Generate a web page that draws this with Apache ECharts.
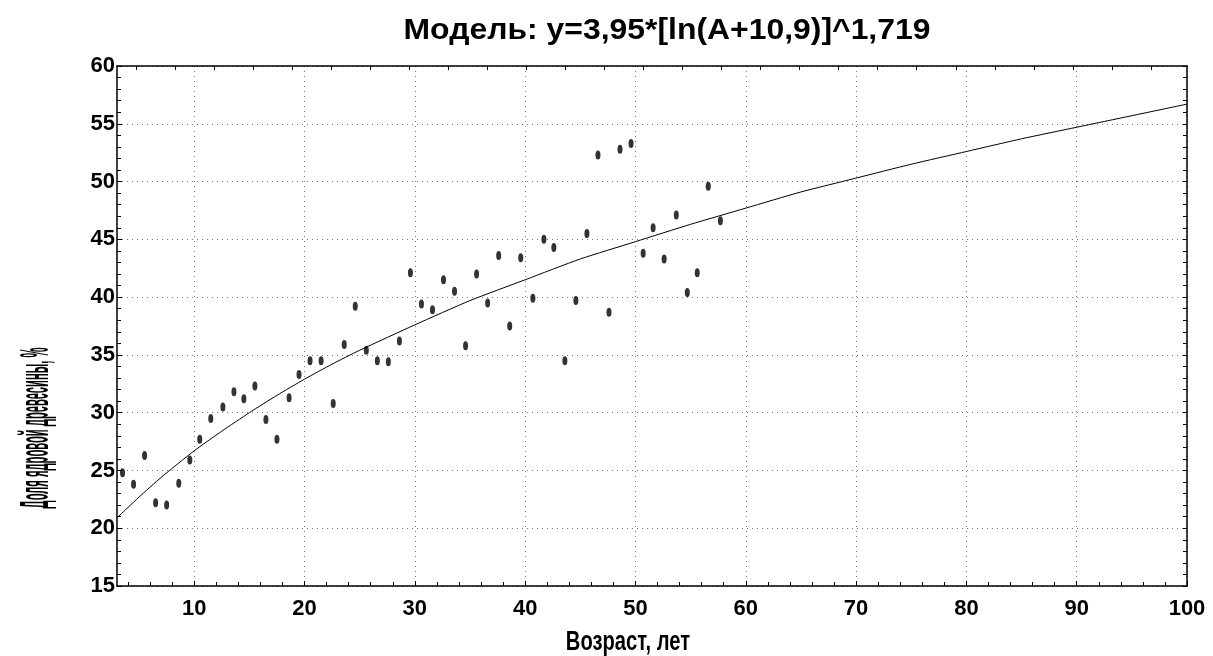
<!DOCTYPE html>
<html>
<head>
<meta charset="utf-8">
<script src="https://cdn.jsdelivr.net/npm/echarts@6/dist/echarts.min.js"></script>
<style>html,body{margin:0;padding:0;background:#fff}#c{width:1213px;height:656px}</style>
</head>
<body>
<div id="c"></div>
<script>
// Observed points: age (years) and heartwood share (%)
const ages = [3.5,4.5,5.5,6.5,7.5,8.6,9.6,10.5,11.5,12.6,13.6,14.5,15.5,16.5,17.5,18.6,19.5,20.5,21.5,22.6,23.6,24.6,25.6,26.6,27.6,28.6,29.6,30.6,31.6,32.6,33.6,34.6,35.6,36.6,37.6,38.6,39.6,40.7,41.7,42.6,43.6,44.6,45.6,46.6,47.6,48.6,49.6,50.7,51.6,52.6,53.7,54.7,55.6,56.6,57.7];
const shares = [24.8,23.8,26.3,22.2,22.0,23.9,25.9,27.7,29.5,30.5,31.8,31.2,32.3,29.4,27.7,31.3,33.3,34.5,34.5,30.8,35.9,39.2,35.4,34.5,34.4,36.2,42.1,39.4,38.9,41.5,40.5,35.8,42.0,39.5,43.6,37.5,43.4,39.9,45.0,44.3,34.5,39.7,45.5,52.3,38.7,52.8,53.3,43.8,46.0,43.3,47.1,40.4,42.1,49.6,46.6];
// Fitted model curve
const curveAges = [3,4,5,7,10,12.5,15,17.5,20,22.5,25,30,35,40,45,50,55,60,65,70,75,80,85,90,95,100];
const curveVals = [20.9,21.8,22.7,24.4,26.7,28.4,30.0,31.5,32.9,34.2,35.4,37.6,39.7,41.5,43.3,44.8,46.3,47.7,49.1,50.3,51.5,52.6,53.7,54.7,55.7,56.7];
// Tick labels
const xTicks = [10,20,30,40,50,60,70,80,90,100];
const titleText = 'Модель: y=3,95*[ln(A+10,9)]^1,719';
const xName = 'Возраст, лет';
const yName = 'Доля ядровой древесины, %';

const xMinor = [];
for (let v = 4; v <= 100; v += 2) xMinor.push(v);
const topTicks = [];
for (let i = 0; i < 27; i++) topTicks.push(+(4.7 + i * 3.54).toFixed(2));

const chart = echarts.init(document.getElementById('c'));
const FONT = '"Liberation Sans", Arial, sans-serif';
chart.setOption({
  animation: false,
  backgroundColor: '#fff',
  grid: { left: 117, right: 26, top: 66, bottom: 70, containLabel: false },
  xAxis: [
    {
      type: 'value', min: 3, max: 100, position: 'bottom',
      axisLine: { show: true, onZero: false, lineStyle: { color: '#000', width: 1.5 } },
      axisTick: { show: true, inside: true, length: 5, customValues: xTicks, lineStyle: { color: '#000' } },
      axisLabel: { customValues: xTicks, margin: 12, color: '#000', fontFamily: FONT, fontWeight: 'bold', fontSize: 22 },
      splitLine: { show: true, lineStyle: { color: '#777', type: [1, 4], width: 1 } }
    },
    {
      type: 'value', min: 3, max: 100, position: 'bottom', gridIndex: 0,
      axisLine: { show: false },
      axisTick: { show: true, inside: true, length: 4, customValues: xMinor, lineStyle: { color: '#000' } },
      axisLabel: { show: false },
      splitLine: { show: false }
    },
    {
      type: 'value', min: 3, max: 100, position: 'top',
      axisLine: { show: true, onZero: false, lineStyle: { color: '#000', width: 1.5 } },
      axisTick: { show: true, inside: true, length: 4, customValues: topTicks, lineStyle: { color: '#000' } },
      axisLabel: { show: false },
      splitLine: { show: false }
    }
  ],
  yAxis: [
    {
      type: 'value', min: 15, max: 60, interval: 5, position: 'left',
      axisLine: { show: true, onZero: false, lineStyle: { color: '#000', width: 1.5 } },
      axisTick: { show: true, inside: true, length: 5, lineStyle: { color: '#000' } },
      minorTick: { show: true, splitNumber: 5, length: 4, lineStyle: { color: '#000' } },
      axisLabel: { margin: 2, color: '#000', fontFamily: FONT, fontWeight: 'bold', fontSize: 22 },
      splitLine: { show: true, lineStyle: { color: '#777', type: [1, 4], width: 1 } }
    },
    {
      type: 'value', min: 15, max: 60, interval: 1, position: 'right',
      axisLine: { show: true, onZero: false, lineStyle: { color: '#000', width: 1.5 } },
      axisTick: { show: true, inside: true, length: 4, lineStyle: { color: '#000' } },
      axisLabel: { show: false },
      splitLine: { show: false }
    }
  ],
  graphic: [
    { type: 'text', x: 667, y: 31, scaleX: 1.1,
      style: { text: titleText, font: 'bold 29px ' + FONT, fill: '#000', align: 'center', verticalAlign: 'middle' } },
    { type: 'text', x: 628, y: 642, scaleX: 0.72,
      style: { text: xName, font: 'bold 28px ' + FONT, fill: '#000', align: 'center', verticalAlign: 'middle' } },
    { type: 'text', x: 37, y: 428, rotation: Math.PI / 2, scaleX: 0.28,
      style: { text: yName, font: 'bold 40px ' + FONT, fill: '#000', align: 'center', verticalAlign: 'middle' } }
  ],
  series: [
    {
      type: 'line', xAxisIndex: 0, yAxisIndex: 0,
      data: curveAges.map((a, i) => [a, curveVals[i]]),
      smooth: 0.2, showSymbol: false, symbol: 'none',
      lineStyle: { color: '#000', width: 1 }, silent: true, z: 3
    },
    {
      type: 'scatter', xAxisIndex: 0, yAxisIndex: 0,
      data: ages.map((a, i) => [a, shares[i]]),
      symbol: 'circle', symbolSize: [5, 9],
      itemStyle: { color: '#000' }, z: 4
    }
  ]
});
</script>
</body>
</html>
